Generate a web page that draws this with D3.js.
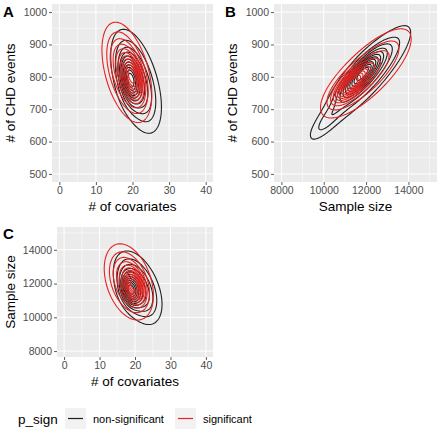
<!DOCTYPE html>
<html><head><meta charset="utf-8">
<script src="https://cdn.jsdelivr.net/npm/d3@7"></script>
<style>body{margin:0;background:#fff}svg{display:block}</style>
</head><body><svg id="c" width="440" height="432"></svg>
<script>
// ---------- data ----------
const groups = ["non-significant", "significant"];
const groupColors = ["#1f1f1f", "#e8211f"];
const covTicks = [0, 10, 20, 30, 40];
const covMinor = [5, 15, 25, 35];
const eventTicks = [500, 600, 700, 800, 900, 1000];
const eventMinor = [550, 650, 750, 850, 950];
const sizeTicks = [8000, 10000, 12000, 14000];
const sizeMinor = [9000, 11000, 13000, 15000];
// 2-D density components: [weight, meanX, meanY, sdX, sdY, rho]
const densA_nonsig = [[0.78, 21.0, 786, 3.7, 86, -0.5], [0.22, 19.3, 788, 1.6, 42, -0.3]];
const densA_sig    = [[0.82, 18.4, 814, 3.4, 78, -0.45], [0.18, 20.3, 800, 1.7, 42, -0.4]];
const densB_nonsig = [[0.64, 12050, 808, 1180, 86, 0.86], [0.3, 11800, 810, 560, 42, 0.8], [0.06, 10100, 660, 550, 40, 0.8]];
const densB_sig    = [[0.72, 12050, 812, 1220, 80, 0.77], [0.28, 11300, 778, 520, 34, 0.72]];
const densC_nonsig = [[0.78, 20.8, 11750, 3.6, 1150, -0.45], [0.22, 18.6, 11600, 1.6, 560, -0.3]];
const densC_sig    = [[0.8, 18.2, 12100, 3.6, 1180, -0.35], [0.2, 20.0, 11900, 1.7, 600, -0.35]];
const contourLevels = d3.range(1, 12).map(k => k / 12); // fractions of each group's peak

// ---------- layout ----------
const panels = [
  {label: "A", lx: 3, ly: 17, x0: 52, x1: 213, y0: 4, y1: 182, xd: [-2, 42], yd: [475, 1025],
   xt: covTicks, xm: covMinor, yt: eventTicks, ym: eventMinor, xTitle: "# of covariates", yTitle: "# of CHD events",
   ytx: 15, comps: [densA_nonsig, densA_sig]},
  {label: "B", lx: 225, ly: 17, x0: 274, x1: 437, y0: 4, y1: 182, xd: [7650, 15350], yd: [475, 1025],
   xt: sizeTicks, xm: sizeMinor, yt: eventTicks, ym: eventMinor, xTitle: "Sample size", yTitle: "# of CHD events",
   ytx: 237, comps: [densB_nonsig, densB_sig]},
  {label: "C", lx: 3, ly: 239, x0: 57, x1: 213, y0: 227, y1: 357, xd: [-2, 42], yd: [7650, 15350],
   xt: covTicks, xm: covMinor, yt: sizeTicks, ym: sizeMinor, xTitle: "# of covariates", yTitle: "Sample size",
   ytx: 15, comps: [densC_nonsig, densC_sig]}
];

const svg = d3.select("#c");
const FONT = "'Liberation Sans', Arial, sans-serif";

function dens(comps, x, y) {
  let s = 0;
  for (const [w, mx, my, sx, sy, r] of comps) {
    const dx = (x - mx) / sx, dy = (y - my) / sy;
    const q = (dx * dx - 2 * r * dx * dy + dy * dy) / (1 - r * r);
    s += w / (2 * Math.PI * sx * sy * Math.sqrt(1 - r * r)) * Math.exp(-q / 2);
  }
  return s;
}

panels.forEach((p, pi) => {
  const xs = d3.scaleLinear().domain(p.xd).range([p.x0, p.x1]);
  const ys = d3.scaleLinear().domain(p.yd).range([p.y1, p.y0]);
  const g = svg.append("g");
  g.append("rect").attr("x", p.x0).attr("y", p.y0).attr("width", p.x1 - p.x0).attr("height", p.y1 - p.y0).attr("fill", "#EBEBEB");
  g.selectAll(".xm").data(p.xm.filter(v => v > p.xd[0] && v < p.xd[1])).join("line")
    .attr("x1", d => xs(d)).attr("x2", d => xs(d)).attr("y1", p.y0).attr("y2", p.y1).attr("stroke", "#fff").attr("stroke-width", 0.5);
  g.selectAll(".ym").data(p.ym.filter(v => v > p.yd[0] && v < p.yd[1])).join("line")
    .attr("y1", d => ys(d)).attr("y2", d => ys(d)).attr("x1", p.x0).attr("x2", p.x1).attr("stroke", "#fff").attr("stroke-width", 0.5);
  g.selectAll(".xg").data(p.xt).join("line")
    .attr("x1", d => xs(d)).attr("x2", d => xs(d)).attr("y1", p.y0).attr("y2", p.y1).attr("stroke", "#fff").attr("stroke-width", 1);
  g.selectAll(".yg").data(p.yt).join("line")
    .attr("y1", d => ys(d)).attr("y2", d => ys(d)).attr("x1", p.x0).attr("x2", p.x1).attr("stroke", "#fff").attr("stroke-width", 1);

  const cid = "clip" + pi;
  svg.append("clipPath").attr("id", cid).append("rect").attr("x", p.x0).attr("y", p.y0).attr("width", p.x1 - p.x0).attr("height", p.y1 - p.y0);
  const cg = svg.append("g").attr("clip-path", `url(#${cid})`);

  const nx = Math.ceil(p.x1 - p.x0), ny = Math.ceil(p.y1 - p.y0);
  const proj = d3.geoTransform({point(x, y) { this.stream.point(p.x0 + x, p.y0 + y); }});
  const path = d3.geoPath(proj);
  p.comps.forEach((comps, gi) => {
    const vals = new Float64Array(nx * ny);
    let mx = 0;
    for (let j = 0; j < ny; j++) for (let i = 0; i < nx; i++) {
      const v = dens(comps, xs.invert(p.x0 + i + 0.5), ys.invert(p.y0 + j + 0.5));
      vals[j * nx + i] = v; if (v > mx) mx = v;
    }
    const cs = d3.contours().size([nx, ny]).thresholds(contourLevels.map(f => f * mx))(vals);
    cg.append("g").selectAll("path").data(cs).join("path")
      .attr("d", path).attr("fill", "none").attr("stroke", groupColors[gi]).attr("stroke-width", 1.1);
  });

  const ax = g.append("g").attr("transform", `translate(0,${p.y1})`)
    .call(d3.axisBottom(xs).tickValues(p.xt).tickSize(3).tickPadding(2).tickFormat(d3.format("d")));
  const ay = g.append("g").attr("transform", `translate(${p.x0},0)`)
    .call(d3.axisLeft(ys).tickValues(p.yt).tickSize(3).tickPadding(2).tickFormat(d3.format("d")));
  [ax, ay].forEach(a => {
    a.select(".domain").remove();
    a.selectAll("line").attr("stroke", "#333").attr("stroke-width", 0.8);
    a.selectAll("text").attr("fill", "#4D4D4D").style("font-family", FONT).style("font-size", "10.5px");
  });
  g.append("text").attr("x", (p.x0 + p.x1) / 2).attr("y", p.y1 + 29).attr("text-anchor", "middle")
    .style("font-family", FONT).style("font-size", "13.5px").attr("fill", "#000").text(p.xTitle);
  g.append("text").attr("transform", `translate(${p.ytx},${(p.y0 + p.y1) / 2}) rotate(-90)`).attr("text-anchor", "middle")
    .style("font-family", FONT).style("font-size", "13.5px").attr("fill", "#000").text(p.yTitle);
  g.append("text").attr("x", p.lx).attr("y", p.ly).style("font-family", FONT).style("font-size", "15px")
    .style("font-weight", "bold").attr("fill", "#000").text(p.label);
});

const lg = svg.append("g");
lg.append("text").attr("x", 18).attr("y", 424).style("font-family", FONT).style("font-size", "13.5px").text("p_sign");
const keyX = [65, 175], labX = [93, 203];
groups.forEach((gname, i) => {
  lg.append("rect").attr("x", keyX[i]).attr("y", 408).attr("width", 21).attr("height", 21).attr("fill", "#F2F2F2");
  lg.append("line").attr("x1", keyX[i] + 3).attr("x2", keyX[i] + 18).attr("y1", 418.5).attr("y2", 418.5)
    .attr("stroke", groupColors[i]).attr("stroke-width", 1.2);
  lg.append("text").attr("x", labX[i]).attr("y", 422.5).style("font-family", FONT).style("font-size", "11px").attr("fill", "#000").text(gname);
});
</script></body></html>
